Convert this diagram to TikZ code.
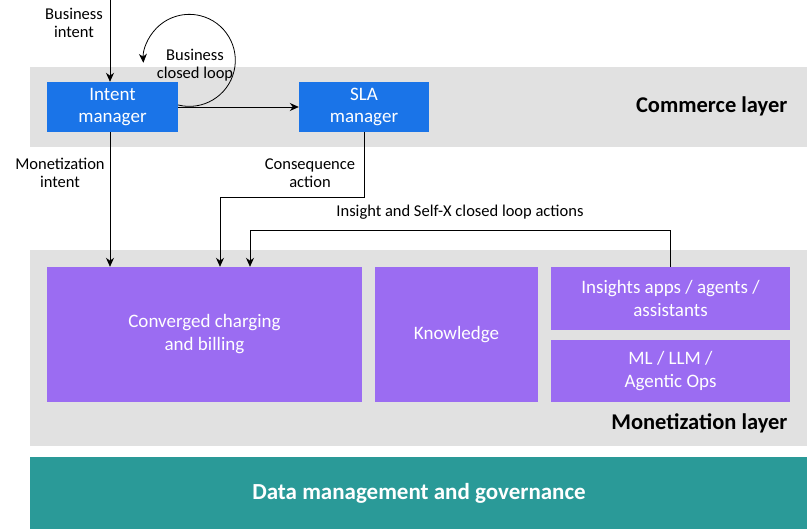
\documentclass[tikz,border=0pt]{standalone}
\usepackage{fontspec}
\setmainfont{Carlito}
\usetikzlibrary{arrows.meta}
\definecolor{bandgray}{HTML}{E1E1E1}
\definecolor{mgrblue}{HTML}{1A74E8}
\definecolor{monpurple}{HTML}{9B6CF2}
\definecolor{datateal}{HTML}{2A9A98}
\tikzset{
  band/.style={fill=bandgray, draw=none},
  mgr/.style={fill=mgrblue, draw=none, text=white, font=\fontsize{19}{22}\selectfont, align=center},
  mon/.style={fill=monpurple, draw=none, text=white, font=\fontsize{19}{23}\selectfont, align=center},
  layer/.style={font=\bfseries\fontsize{22.5}{24}\selectfont, anchor=east},
  lbl/.style={font=\fontsize{16.5}{18.5}\selectfont, align=center},
  flow/.style={-{Stealth[length=9pt,width=8pt]}, thick}
}
\begin{document}
\begin{tikzpicture}[x=1pt,y=-1pt]
  \useasboundingbox (0,0) rectangle (807,529);
  % layers
  \fill[band] (30,67) rectangle (807,147);
  \fill[band] (30,250) rectangle (807,446);
  \fill[datateal] (30,457) rectangle (807,529);
  \node[layer] (commerce) at (791,106) {Commerce layer};
  \node[layer] (monet) at (791,423) {Monetization layer};
  \node[font=\bfseries\fontsize{23}{25}\selectfont, text=white] (data) at (419,493) {Data management and governance};
  % commerce boxes
  \node[mgr, minimum width=131pt, minimum height=50pt] (intent) at (112.5,107) {Intent\\manager};
  \node[mgr, minimum width=130pt, minimum height=50pt] (sla) at (364,107) {SLA\\manager};
  % monetization boxes
  \node[mon, minimum width=315pt, minimum height=135pt] (charging) at (204.5,334.5) {Converged charging\\and billing};
  \node[mon, minimum width=163pt, minimum height=135pt] (knowledge) at (456.5,334.5) {Knowledge};
  \node[mon, minimum width=239pt, minimum height=63pt] (insights) at (670.5,298.5) {Insights apps / agents /\\assistants};
  \node[mon, minimum width=239pt, minimum height=62pt] (ml) at (670.5,371) {ML / LLM /\\Agentic Ops};
  % coordinates
  \coordinate (top) at (110,0);
  \coordinate (cons) at (220,197);
  \coordinate (ins) at (250,230);
  % arrows
  \draw[flow] (top) -- (intent.north -| top);
  \node[lbl] (bi) at (74,23) {Business\\intent};
  \draw[flow] (intent.east) ++(0,-2) arc[start angle=104, end angle=-183, radius=46];
  \node[lbl] (bcl) at (195,65) {Business\\closed loop};
  \draw[flow] (intent.east) -- (sla.west);
  \draw[flow] (intent.south -| top) -- (charging.north -| top);
  \node[lbl] (mi) at (60,173) {Monetization\\intent};
  \draw[flow] (sla.south) |- (cons) -- (charging.north -| cons);
  \node[lbl] (ca) at (310,173) {Consequence\\action};
  \draw[flow] (insights.north -| 670,0) |- (ins) -- (charging.north -| ins);
  \node[lbl] (isx) at (460,212) {Insight and Self-X closed loop actions};
\end{tikzpicture}
\end{document}
